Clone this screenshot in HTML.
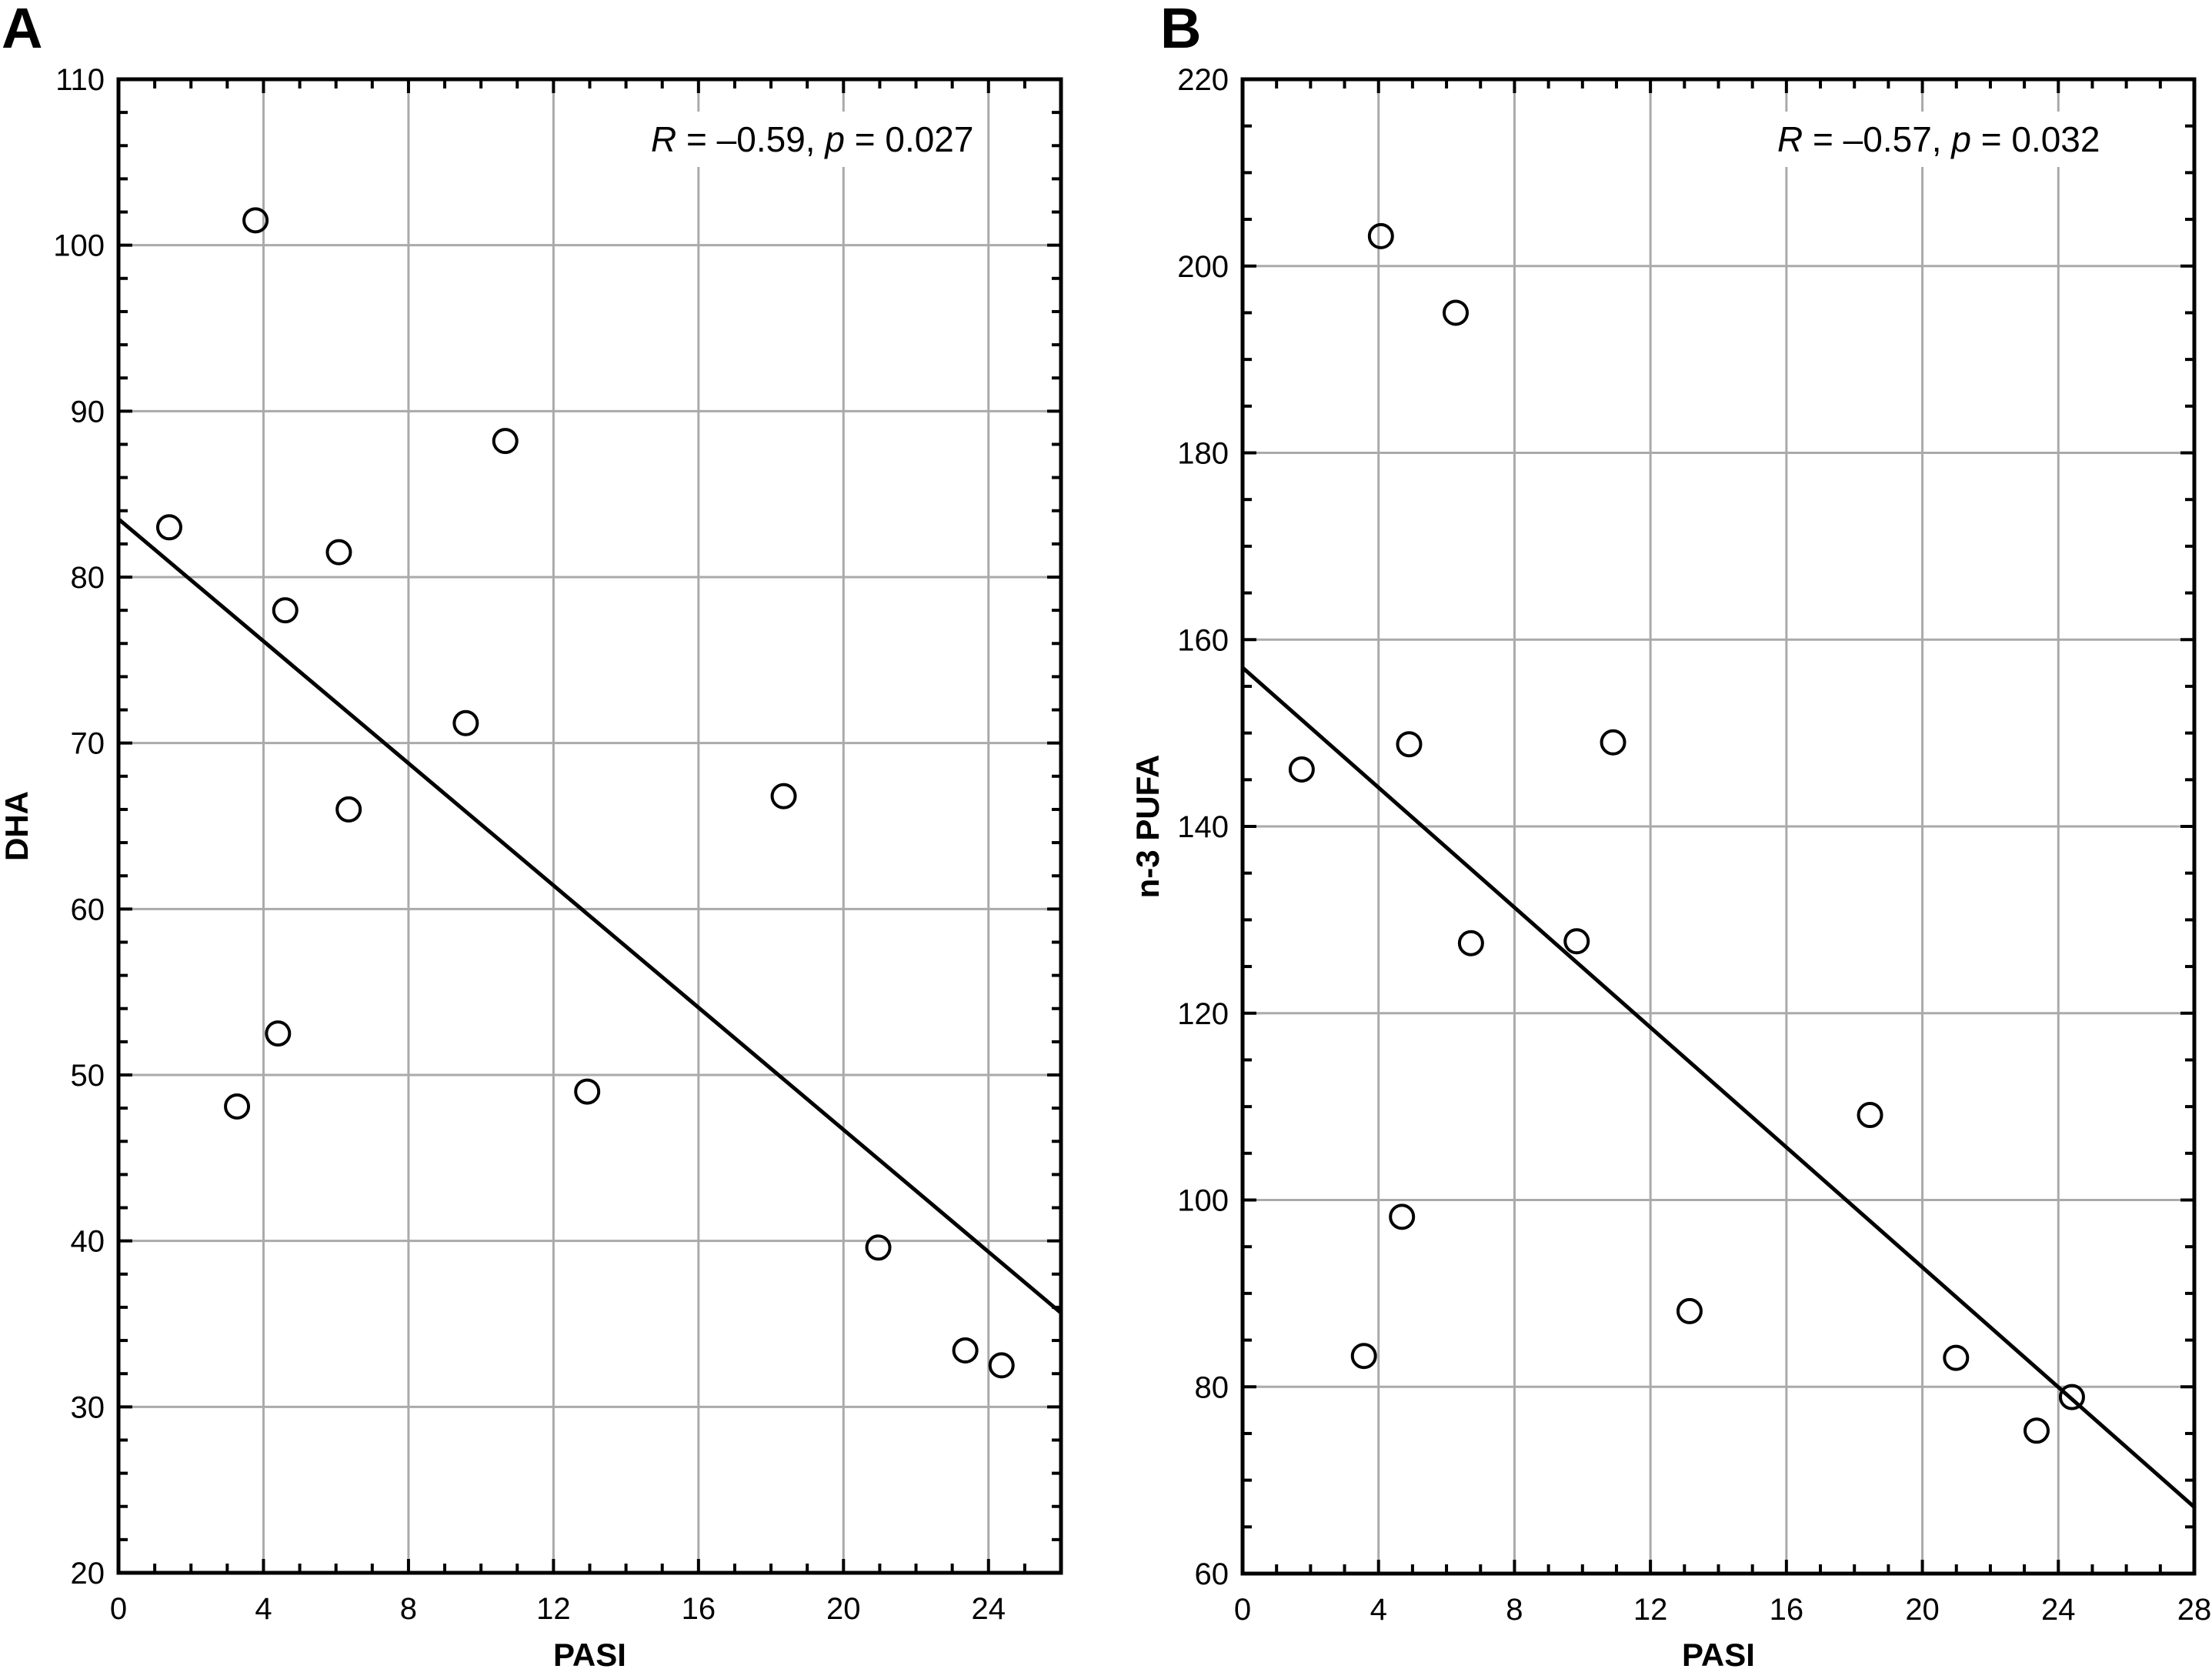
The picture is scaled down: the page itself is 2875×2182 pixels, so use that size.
<!DOCTYPE html>
<html><head><meta charset="utf-8"><style>
html,body{margin:0;padding:0;background:#fff}
svg{display:block}
text{font-family:"Liberation Sans","DejaVu Sans",sans-serif;fill:#000}
</style></head><body>
<svg id="c" width="2875" height="2182" viewBox="0 0 2875 2182"></svg>
<script>
const pasiA=[1.40,3.78,3.27,4.40,4.60,6.08,6.35,9.58,10.67,12.93,18.35,20.96,23.36,24.36];
const dhaA=[83.0,101.5,48.1,52.5,78.0,81.5,66.0,71.2,88.2,49.0,66.8,39.6,33.4,32.5];
const fitA=[83.5,-1.84];
const xTicksA=[0,4,8,12,16,20,24];
const yTicksA=[20,30,40,50,60,70,80,90,100,110];
const pasiB=[1.74,4.07,3.57,4.69,4.9,6.27,6.72,9.83,10.9,13.15,18.46,20.99,23.36,24.4];
const pufaB=[146.1,203.2,83.3,98.2,148.8,195.0,127.5,127.7,149.0,88.1,109.1,83.1,75.3,78.9];
const fitB=[157.0,-3.21];
const xTicksB=[0,4,8,12,16,20,24,28];
const yTicksB=[60,80,100,120,140,160,180,200,220];

const NS='http://www.w3.org/2000/svg';
const svg=document.getElementById('c');
function mk(tag,at,parent){const e=document.createElementNS(NS,tag);for(const k in at)e.setAttribute(k,at[k]);(parent||svg).appendChild(e);return e;}

function panel(o){
  const g=mk('g',{});
  
  
  const sx=v=>o.L+(v-o.x0)/(o.x1-o.x0)*(o.R-o.L);
  const sy=v=>o.B-(v-o.y0)/(o.y1-o.y0)*(o.B-o.T);
  o.xt.forEach(v=>{if(v>o.x0&&v<o.x1){const l=mk('line',{x1:sx(v),x2:sx(v),y1:o.T,y2:o.B,stroke:'#aaa','stroke-width':3},g);
    }});
  o.yt.forEach(v=>{if(v>o.y0&&v<o.y1){const l=mk('line',{x1:o.L,x2:o.R,y1:sy(v),y2:sy(v),stroke:'#aaa','stroke-width':3},g);
    }});
  mk('rect',{x:o.annX-18,y:o.annY-52,width:445,height:72,fill:'#fff'},g);
  const an=mk('text',{x:o.annX,y:o.annY,'font-size':46},g);
  
  
  an.innerHTML='<tspan font-style="italic">R</tspan> = \u20130.'+o.r+', <tspan font-style="italic">p</tspan> = '+o.p;
  for(let v=o.x0;v<=o.x1+1e-9;v+=o.xm){const X=sx(v);const maj=o.xt.includes(Math.round(v*1000)/1000);const len=maj?18:12;
    mk('line',{x1:X,x2:X,y1:o.B,y2:o.B-len,stroke:'#000','stroke-width':4},g);
    mk('line',{x1:X,x2:X,y1:o.T,y2:o.T+len,stroke:'#000','stroke-width':4},g);}
  for(let v=o.y0;v<=o.y1+1e-9;v+=o.ym){const Y=sy(v);const len=o.yt.includes(Math.round(v*1000)/1000)?18:12;
    mk('line',{x1:o.L,x2:o.L+len,y1:Y,y2:Y,stroke:'#000','stroke-width':4},g);
    mk('line',{x1:o.R,x2:o.R-len,y1:Y,y2:Y,stroke:'#000','stroke-width':4},g);}
  const fr=mk('rect',{x:o.L,y:o.T,width:o.R-o.L,height:o.B-o.T,fill:'none',stroke:'#000','stroke-width':5},g);
  
  o.xt.forEach(v=>{const t=mk('text',{x:sx(v),y:o.B+60,'font-size':40,'text-anchor':'middle'},g);t.textContent=v;
    });
  o.yt.forEach(v=>{const t=mk('text',{x:o.L-18,y:sy(v)+14,'font-size':40,'text-anchor':'end'},g);t.textContent=v;
    });
  const xt=mk('text',{x:(o.L+o.R)/2,y:2165,'font-size':42,'font-weight':'bold','text-anchor':'middle'},g);xt.textContent='PASI';
  
  const cy=(o.T+o.B)/2;
  const yt=mk('text',{x:o.ytx,y:cy,'font-size':42,'font-weight':'bold','text-anchor':'middle',transform:'rotate(-90 '+o.ytx+' '+cy+')'},g);yt.textContent=o.ytitle;
  
  const pl=mk('text',{x:o.letterX,y:62,'font-size':74,'font-weight':'bold'},g);pl.textContent=o.letter;
  
  const xe=o.x1;
  const ln=mk('line',{x1:sx(0),y1:sy(o.fit[0]),x2:sx(xe),y2:sy(o.fit[0]+o.fit[1]*xe),stroke:'#000','stroke-width':5},g);
  
  o.xs.forEach((x,i)=>{const c=mk('circle',{cx:sx(x),cy:sy(o.ys[i]),r:15,fill:'none',stroke:'#000','stroke-width':4},g);
    });
}
panel({id:'dha',letter:'A',letterX:2,L:154,R:1379,T:103,B:2044,x0:0,x1:26,y0:20,y1:110,xm:1,ym:2,xt:xTicksA,yt:yTicksA,
  xs:pasiA,ys:dhaA,fit:fitA,ytitle:'DHA',ytx:36,annX:846,annY:197,r:'59',p:'0.027'});
panel({id:'pufa',letter:'B',letterX:1508,L:1615,R:2852,T:103,B:2045,x0:0,x1:28,y0:60,y1:220,xm:1,ym:5,xt:xTicksB,yt:yTicksB,
  xs:pasiB,ys:pufaB,fit:fitB,ytitle:'n-3 PUFA',ytx:1506,annX:2310,annY:197,r:'57',p:'0.032'});
</script>
</body></html>
